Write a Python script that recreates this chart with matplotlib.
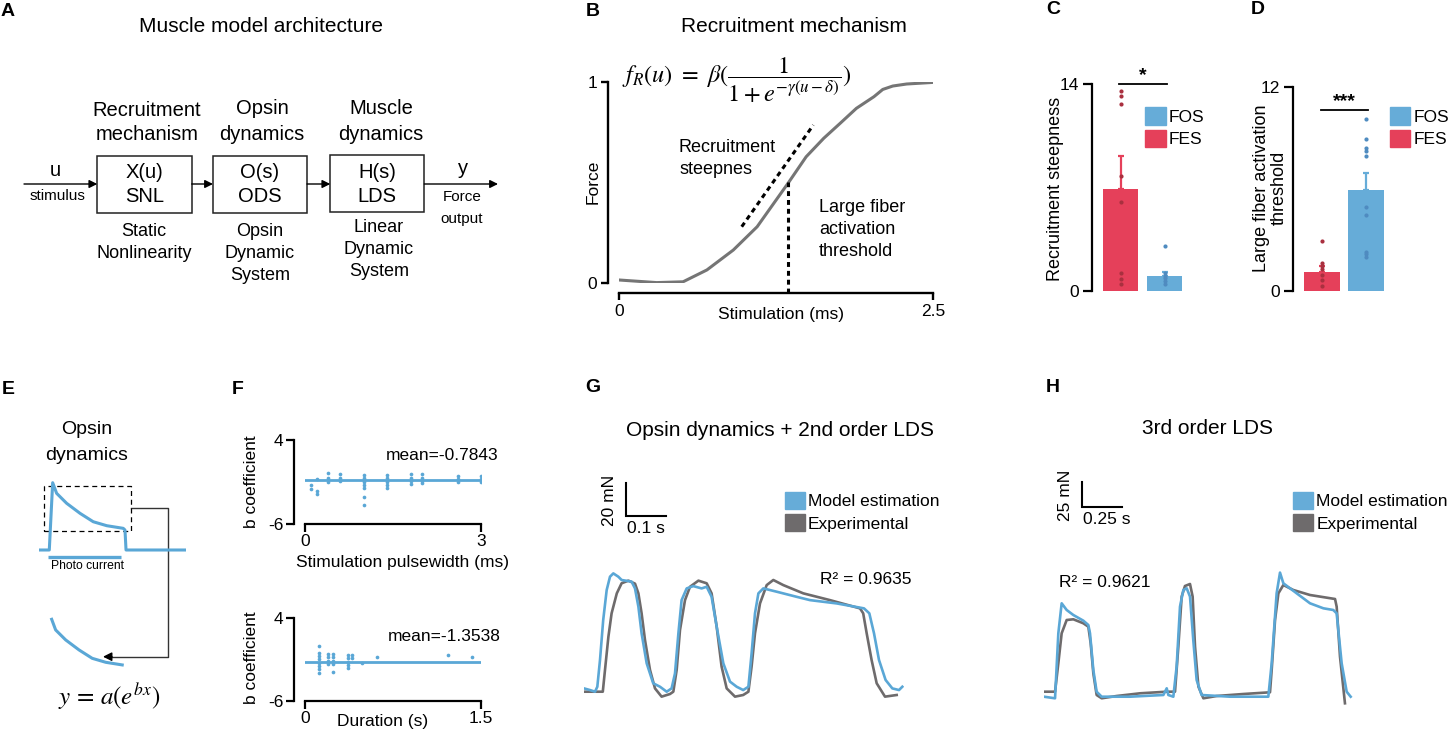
import numpy as np
import matplotlib
matplotlib.use("Agg")
import matplotlib.pyplot as plt
from matplotlib.patches import Rectangle, Patch
from matplotlib.transforms import Affine2D

plt.rcParams['font.family'] = ['Liberation Sans', 'DejaVu Sans']
plt.rcParams['mathtext.fontset'] = 'stix'

W, H = 1452, 732

# ---------------- data ----------------
# B: recruitment curve
rec_stim = [0, 0.30, 0.51, 0.70, 0.91, 1.10, 1.35, 1.49, 1.63, 1.76, 1.89, 2.03, 2.10, 2.18, 2.29, 2.50]
rec_force = [0.015, 0.002, 0.006, 0.065, 0.164, 0.28, 0.50, 0.628, 0.72, 0.794, 0.869, 0.927, 0.963, 0.98, 0.99, 0.998]
steep_x = [0.977, 1.547]
steep_y = [0.28, 0.786]
thresh_x = 1.348
thresh_y = 0.50

# C / D
groups = ['FES', 'FOS']
steep_mean = [6.9, 1.0]
steep_sem = [2.25, 0.3]
steep_fes = [13.53, 13.21, 12.65, 7.8, 6.0, 1.2, 0.79, 0.45]
steep_fos = [3.04, 1.2, 1.01, 0.86, 0.68, 0.47]
thr_mean = [1.14, 5.94]
thr_sem = [0.35, 1.02]
thr_fes = [2.96, 1.67, 1.47, 1.27, 0.94, 0.65, 0.29]
thr_fos = [10.12, 8.94, 8.39, 8.25, 7.94, 4.92, 4.47, 2.31, 2.18, 2.02]

# E: photocurrent schematic
e_time = [0, 0.070, 0.093, 0.120, 0.188, 0.279, 0.369, 0.461, 0.573, 0.585, 0.592, 1.0]
e_curr = [0, 0, 1.0, 0.842, 0.694, 0.545, 0.420, 0.361, 0.322, 0.297, 0, 0]
e_light = [0.063, 0.556]

# F: b coefficients
pw_x = [0.1, 0.1, 0.2, 0.2, 0.2, 0.4, 0.4, 0.4, 0.6, 0.6, 0.6,
        1.0, 1.0, 1.0, 1.0, 1.0, 1.0, 1.0, 1.0,
        1.4, 1.4, 1.4, 1.4, 1.4, 1.8, 1.8, 1.8, 1.8, 2.0, 2.0, 2.0, 2.0,
        2.6, 2.6, 2.6, 3.0, 3.0, 3.0]
pw_b = [-1.36, -1.83, -0.68, -2.04, -2.46, 0.04, -0.49, -0.96, -0.08, -0.56, -0.88,
        -0.17, -0.49, -0.76, -1.04, -1.36, -1.68, -2.75, -3.74,
        -0.17, -0.56, -0.96, -1.36, -1.75, -0.1, -0.5, -0.9, -1.2, -0.1, -0.5, -0.9, -1.15,
        -0.3, -0.7, -1.05, -0.3, -0.7, -1.05]
pw_mean = -0.7843
dur_x = [0.12, 0.12, 0.12, 0.12, 0.12, 0.12, 0.12, 0.12,
         0.2, 0.2, 0.2, 0.2, 0.24, 0.24, 0.24, 0.24, 0.24,
         0.37, 0.37, 0.37, 0.37, 0.37, 0.4, 0.4, 0.49, 0.61, 1.22, 1.42]
dur_b = [0.59, -0.22, -0.61, -1.01, -1.42, -1.82, -2.22, -2.63,
         -0.37, -0.77, -1.18, -1.58, -0.37, -0.77, -1.18, -1.58, -2.5,
         -0.49, -0.89, -1.3, -1.7, -2.1, -0.49, -0.89, -1.5, -0.7, -0.49, -0.77]
dur_mean = -1.3538

# G: opsin dynamics + 2nd order LDS (time s, force mN)
g_exp_t = [0, 0.047, 0.0525, 0.061, 0.069, 0.082, 0.094, 0.111, 0.1275, 0.136, 0.144, 0.1525, 0.165, 0.1775, 0.194,
           0.215, 0.2233, 0.2317, 0.24, 0.2525, 0.265, 0.286, 0.3067, 0.319, 0.3317, 0.344, 0.3567, 0.3775, 0.398, 0.411,
           0.419, 0.4275, 0.44, 0.4567, 0.4733, 0.4983, 0.5483, 0.615, 0.69, 0.698, 0.7067, 0.719, 0.7317, 0.7525, 0.7817]
g_exp_f = [0, 0, 13.2, 33.3, 47.5, 59.6, 65.7, 67.3, 65.5, 59.6, 47.5, 31.3, 13.2, 2.0, -3.0,
           -1.4, 0, 13.2, 37.4, 55.5, 63.6, 67.3, 65.7, 59.6, 39.4, 15.2, 2.0, -3.0, -2.0, 0,
           15.2, 35.4, 53.5, 64.6, 67.7, 64.6, 59.6, 55.5, 50.5, 47.5, 35.4, 19.2, 5.1, -3.0, -2.0]
g_mod_t = [0, 0.015, 0.0275, 0.0333, 0.04, 0.048, 0.0567, 0.065, 0.0733, 0.0858, 0.094, 0.119, 0.1275, 0.136, 0.144,
           0.1567, 0.173, 0.19, 0.2067, 0.219, 0.2275, 0.236, 0.244, 0.2567, 0.2733, 0.294, 0.3067, 0.319, 0.3317, 0.3483,
           0.365, 0.3817, 0.398, 0.411, 0.419, 0.4275, 0.436, 0.4483, 0.4817, 0.5317, 0.565, 0.6317, 0.70, 0.7133, 0.725,
           0.7375, 0.754, 0.7708, 0.7875, 0.7958]
g_mod_f = [2.0, 1.0, 0, 3.0, 19.2, 43.4, 61.6, 69.7, 71.7, 69.7, 67.7, 66.7, 62.6, 51.5, 35.4,
           17.2, 5.1, 3.0, 0, 2.0, 11.1, 35.4, 55.5, 62.6, 64.0, 62.6, 63.6, 57.5, 39.4, 17.2,
           6.1, 3.0, 1.0, 3.0, 23.2, 47.5, 59.6, 62.6, 60.6, 57.5, 55.5, 53.5, 50.5, 47.5, 35.4,
           19.2, 7.1, 2.0, 1.0, 3.0]
g_r2 = 0.9635

# H: 3rd order LDS
h_exp_t = [0, 0.069, 0.0896, 0.1104, 0.1417, 0.1833, 0.246, 0.2771, 0.2917, 0.3083, 0.329, 0.3604, 0.454, 0.6, 0.7667,
           0.8188, 0.8396, 0.8604, 0.881, 0.9125, 0.929, 0.944, 0.965, 0.996, 1.079, 1.246, 1.4125, 1.423, 1.444, 1.465,
           1.496, 1.5583, 1.6625, 1.819, 1.8292, 1.85, 1.881]
h_exp_f = [0, 0, 28.4, 58.4, 71.7, 72.4, 68.4, 65.0, 48.4, 18.4, -3.3, -6.6, -4.3, -1.6, 0,
           0, 45.1, 95.1, 105.7, 107.7, 95.1, 45.1, 5.1, -6.6, -4.3, -2.3, -0.6, 21.7, 71.7, 98.4,
           106.7, 101.7, 96.7, 92.7, 85.0, 35.0, -11.6]
h_mod_t = [0, 0.069, 0.0896, 0.1104, 0.1417, 0.1833, 0.246, 0.2771, 0.2875, 0.3083, 0.329, 0.3604, 0.5375, 0.746, 0.767,
           0.7771, 0.8083, 0.829, 0.85, 0.871, 0.892, 0.9125, 0.933, 0.954, 0.985, 1.1625, 1.402, 1.423, 1.454, 1.475,
           1.496, 1.579, 1.6625, 1.746, 1.808, 1.829, 1.8604, 1.8917, 1.9167]
h_mod_f = [-5, -6.6, 58.4, 88.4, 81.7, 76.7, 71.0, 66.7, 58.4, 21.7, 0, -5, -5, -3.3, 3.4,
           -3.3, -5, 25.1, 85.1, 101.7, 103.4, 95.1, 51.7, 11.7, -3.3, -5, -5, 28.4, 98.4, 119.1,
           108.4, 98.4, 88.4, 83.4, 81.7, 78.4, 28.4, 0, -5]
h_r2 = 0.9621

# ---------------- styles ----------------
RED = '#E5405A'
BLUE = '#66ACD8'
DRED = '#A9303F'
DBLUE = '#4F8BC0'
LBLUE = '#5AA7D6'
GRAY = '#6E6B6C'
CGRAY = '#757575'

fig = plt.figure(figsize=(W / 100, H / 100), dpi=100)
T = Affine2D().scale(1 / W, -1 / H).translate(0, 1) + fig.transFigure
PX = 0.72  # points per pixel


def add_ax(x0, y0, x1, y1):
    return fig.add_axes([x0 / W, 1 - y1 / H, (x1 - x0) / W, (y1 - y0) / H])


ax0 = fig.add_axes([0, 0, 1, 1])
ax0.set_xlim(0, W)
ax0.set_ylim(H, 0)
ax0.axis('off')


def txt(x, y, s, size, ha='center', va='center', **kw):
    return ax0.text(x, y, s, fontsize=size, ha=ha, va=va, **kw)


def arrow(x0, y0, x1, y1, ms=12, lw=1.0, color='k'):
    ax0.annotate('', xy=(x1, y1), xytext=(x0, y0),
                 arrowprops=dict(arrowstyle='-|>', color=color, lw=lw, mutation_scale=ms,
                                 shrinkA=0, shrinkB=0))


# panel letters
for lab, x, y in [('A', 8, 12), ('B', 593, 11), ('C', 1053, 10), ('D', 1258, 10),
                  ('E', 8, 389), ('F', 238, 389), ('G', 593, 388), ('H', 1053, 388)]:
    txt(x, y, lab, 14, weight='bold')

# ---------------- A: architecture ----------------
txt(261, 27, 'Muscle model architecture', 15)
boxes = [(97.3, 155.7, 191.7, 213.3, 'X(u)', 'SNL'),
         (213, 155.7, 307, 213.3, 'O(s)', 'ODS'),
         (330.3, 155, 424.3, 212, 'H(s)', 'LDS')]
for x0, y0, x1, y1, t1, t2 in boxes:
    ax0.add_patch(Rectangle((x0, y0), x1 - x0, y1 - y0, fill=False, lw=1.1, ec='#222222'))
    cx = (x0 + x1) / 2
    txt(cx, 173, t1, 14.5)
    txt(cx, 197, t2, 14.5)
arrow(24, 184, 97.3, 184)
arrow(191.7, 184, 213, 184)
arrow(307, 184, 330.3, 184)
arrow(424.3, 184, 498, 184)
txt(55, 170, 'u', 14.5)
txt(57, 196, 'stimulus', 11)
txt(463, 169, 'y', 14.5)
txt(462, 197, 'Force', 11)
txt(462, 219, 'output', 11)
txt(147, 110, 'Recruitment', 14.5)
txt(147, 135, 'mechanism', 14.5)
txt(262, 109, 'Opsin', 14.5)
txt(262, 134, 'dynamics', 14.5)
txt(381, 109, 'Muscle', 14.5)
txt(381, 134, 'dynamics', 14.5)
txt(144, 232, 'Static', 13)
txt(144, 254, 'Nonlinearity', 13)
txt(260, 231, 'Opsin', 13)
txt(260, 253, 'Dynamic', 13)
txt(260, 275, 'System', 13)
txt(379, 228, 'Linear', 13)
txt(379, 250, 'Dynamic', 13)
txt(379, 272, 'System', 13)

# ---------------- B: recruitment ----------------
axB = add_ax(619, 82, 933, 283)
axB.plot(rec_stim, rec_force, color=CGRAY, lw=2.2, solid_capstyle='round', solid_joinstyle='round', zorder=2)
axB.plot(steep_x, steep_y, color='k', lw=2.2, ls=(0, (1.6, 1.3)), zorder=3)
axB.plot([thresh_x, thresh_x], [-0.05, thresh_y], color='k', lw=2.2, ls=(0, (1.6, 1.3)),
         clip_on=False, zorder=3)
axB.set_xlim(0, 2.5)
axB.set_ylim(0, 1)
for s in ['top', 'right']:
    axB.spines[s].set_visible(False)
axB.spines['left'].set_position(('outward', 11 * PX))
axB.spines['bottom'].set_position(('outward', 10 * PX))
axB.spines['left'].set_bounds(0, 1)
axB.spines['bottom'].set_bounds(0, 2.5)
for s in ['left', 'bottom']:
    axB.spines[s].set_linewidth(1.7)
axB.set_xticks([0, 2.5])
axB.set_xticklabels(['0', '2.5'])
axB.set_yticks([0, 1])
axB.set_yticklabels(['0', '1'])
axB.tick_params(length=5, width=1.7, labelsize=12.5, pad=3)
axB.set_xlabel('Stimulation (ms)', fontsize=12.5)
axB.xaxis.set_label_coords(780.7, 314, transform=T)
axB.xaxis.label.set_va('center')
axB.set_ylabel('Force', fontsize=12.5)
axB.yaxis.set_label_coords(593, 182, transform=T)
axB.yaxis.label.set_va('center')
axB.patch.set_alpha(0)
txt(794, 27, 'Recruitment mechanism', 15)
txt(622, 80, r'$f_R(u)\ =\ \beta(\dfrac{1}{1+e^{-\gamma(u-\delta)}})$', 17.5, ha='left')
txt(679, 147, 'Recruitment', 13, ha='left')
txt(679, 169, 'steepnes', 13, ha='left')
txt(819, 208, 'Large fiber', 13, ha='left')
txt(819, 230, 'activation', 13, ha='left')
txt(819, 251, 'threshold', 13, ha='left')


# ---------------- C / D: bars ----------------
def bar_panel(ax, means, sems, pts, ymax, off_px, ylabel, lab_xy, sig_y, sig_txt, leg_xy):
    pos = np.arange(len(groups))
    cols = [RED, BLUE]
    dcols = [DRED, DBLUE]
    ax.bar(pos, means, width=0.8, color=cols, zorder=1)
    for i in range(len(groups)):
        ax.errorbar(pos[i], means[i], yerr=[[0], [sems[i]]], color=cols[i], lw=1.6,
                    capsize=2, capthick=1.6, zorder=2)
        ax.scatter(np.full(len(pts[i]), pos[i]), pts[i], s=9, color=dcols[i], zorder=3,
                   linewidths=0)
    ax.set_xlim(-0.5, 1.5)
    ax.set_ylim(0, ymax)
    for s in ['top', 'right', 'bottom']:
        ax.spines[s].set_visible(False)
    ax.spines['left'].set_position(('outward', off_px * PX))
    ax.spines['left'].set_linewidth(1.6)
    ax.set_xticks([])
    ax.set_yticks([0, ymax])
    ax.tick_params(axis='y', length=6.5, width=1.6, labelsize=12.5, pad=3)
    ax.set_ylabel(ylabel, fontsize=13, linespacing=1.05)
    ax.yaxis.set_label_coords(lab_xy[0], lab_xy[1], transform=T)
    ax.yaxis.label.set_va('center')
    ax.plot([-0.03, 1.05], [sig_y, sig_y], color='k', lw=1.3, clip_on=False)
    ax.text(0.5, sig_y, sig_txt, ha='center', va='bottom', fontsize=14, fontweight='bold')
    handles = [Patch(color=BLUE, label='FOS'), Patch(color=RED, label='FES')]
    ax.legend(handles=handles, loc='upper left', bbox_to_anchor=leg_xy, bbox_transform=T,
              frameon=False, fontsize=12.5, handlelength=1.17, handleheight=1.15,
              handletextpad=0.17, labelspacing=0.29, borderpad=0, borderaxespad=0)
    ax.patch.set_alpha(0)


axC = add_ax(1098.5, 84, 1186.5, 291)
bar_panel(axC, steep_mean, steep_sem, [steep_fes, steep_fos], 14, 6.8,
          'Recruitment steepness', (1055, 189), 14, '*', (1145.3, 107.3))
axD = add_ax(1300, 87, 1388, 291)
bar_panel(axD, thr_mean, thr_sem, [thr_fes, thr_fos], 12, 7,
          'Large fiber activation\nthreshold', (1270, 188), 10.65, '***', (1390, 107.3))

# ---------------- E: opsin dynamics ----------------
txt(87, 430, 'Opsin', 14)
txt(87, 456, 'dynamics', 14)
e_ylim = (-0.1486, 1.1887)
axE = add_ax(39, 470, 186, 560)
axE.plot(e_time, e_curr, color=LBLUE, lw=2.2, solid_joinstyle='round')
axE.plot(e_light, [-0.108, -0.108], color=LBLUE, lw=2.4, solid_capstyle='butt', clip_on=False)
axE.add_patch(Rectangle((0.034, 0.282), 0.592, 0.669, fill=False, ls=(0, (4, 3)), lw=0.9, ec='k'))
axE.set_xlim(0, 1)
axE.set_ylim(*e_ylim)
axE.axis('off')
ipk = int(np.argmax(e_curr))
axE2 = add_ax(38, 606.6, 185, 696.6)
axE2.plot(e_time[ipk:-3], e_curr[ipk:-3], color=LBLUE, lw=2.2, solid_joinstyle='round')
axE2.set_xlim(0, 1)
axE2.set_ylim(*e_ylim)
axE2.axis('off')
txt(87.5, 566, 'Photo current', 8.7)
ax0.plot([131, 168.3, 168.3, 110], [508.3, 508.3, 656.7, 656.7], color='#333333', lw=1.0)
arrow(112, 656.7, 103, 656.7, ms=13, lw=1.0)
txt(109, 697, r'$y\,=\,a(e^{bx})$', 18)


# ---------------- F: b coefficients ----------------
def f_panel(ax, xs, ys, mean, xmax, xlabels, xlab, xlab_xy, mean_xy, ylab_xy):
    ax.axhline(mean, color=LBLUE, lw=2.0, zorder=1)
    ax.scatter(xs, ys, s=7, color=LBLUE, linewidths=0, zorder=2)
    ax.set_xlim(0, xmax)
    ax.set_ylim(-6, 4)
    for s in ['top', 'right']:
        ax.spines[s].set_visible(False)
    ax.spines['left'].set_position(('outward', 11 * PX))
    for s in ['left', 'bottom']:
        ax.spines[s].set_linewidth(1.6)
    ax.set_xticks([0, xmax])
    ax.set_xticklabels(xlabels)
    ax.set_yticks([-6, 4])
    ax.set_yticklabels(['-6', '4'])
    ax.tick_params(length=5.5, width=1.6, labelsize=12.5, pad=2)
    ax.set_xlabel(xlab, fontsize=12.5)
    ax.xaxis.set_label_coords(xlab_xy[0], xlab_xy[1], transform=T)
    ax.xaxis.label.set_va('center')
    ax.set_ylabel('b coefficient', fontsize=12.5)
    ax.yaxis.set_label_coords(ylab_xy[0], ylab_xy[1], transform=T)
    ax.yaxis.label.set_va('center')
    ax.text(mean_xy[0], mean_xy[1], 'mean=%.4f' % mean, transform=T,
            fontsize=12.5, ha='left', va='center')
    ax.patch.set_alpha(0)


axF1 = add_ax(305, 440, 481, 524)
f_panel(axF1, pw_x, pw_b, pw_mean, 3, ['0', '3'], 'Stimulation pulsewidth (ms)', (402, 562),
        (385.7, 455.7), (252, 482))
axF2 = add_ax(305, 617.7, 481, 700.7)
f_panel(axF2, dur_x, dur_b, dur_mean, 1.5, ['0', '1.5'], 'Duration (s)', (383, 721.7),
        (388, 636.7), (252, 658))


# ---------------- G / H: traces ----------------
def trace_panel(ax, te, fe, tm, fm, xlim, ylim, sb, sb_anchor, sb_labels, r2, r2_xy, leg_xy):
    ax.plot(te, fe, color=GRAY, lw=1.9, zorder=2, solid_joinstyle='round')
    ax.plot(tm, fm, color=LBLUE, lw=1.9, zorder=3, solid_joinstyle='round')
    ax.set_xlim(*xlim)
    ax.set_ylim(*ylim)
    ax.axis('off')
    t0, f0 = sb_anchor
    ax.plot([t0, t0, t0 + sb[0]], [f0 + sb[1], f0, f0], color='k', lw=1.5, clip_on=False,
            solid_joinstyle='miter')
    (vx, vy), (hx, hy) = sb_labels
    ax.text(vx, vy, '%g mN' % sb[1], transform=T, rotation=90, fontsize=12.5, ha='center', va='center')
    ax.text(hx, hy, '%g s' % sb[0], transform=T, fontsize=12.5, ha='center', va='center')
    ax.text(r2_xy[0], r2_xy[1], 'R\u00b2 = %.4f' % r2, transform=T, fontsize=12.5, ha='left', va='center')
    handles = [Patch(color=BLUE, label='Model estimation'), Patch(color=GRAY, label='Experimental')]
    ax.legend(handles=handles, loc='upper left', bbox_to_anchor=leg_xy, bbox_transform=T,
              frameon=False, fontsize=12.5, handlelength=1.15, handleheight=1.15,
              handletextpad=0.17, labelspacing=0.29, borderpad=0, borderaxespad=0)


txt(780, 431, 'Opsin dynamics + 2nd order LDS', 15)
axG = add_ax(584, 470, 904, 710)
trace_panel(axG, g_exp_t, g_exp_f, g_mod_t, g_mod_f, (0, 0.8), (-11.09, 134.36),
            (0.1, 20), (0.105, 106.5), ((610, 500), (646, 528.3)), g_r2, (820, 580), (785, 491.7))

txt(1208, 428, '3rd order LDS', 15)
axH = add_ax(1044, 470, 1364, 710)
trace_panel(axH, h_exp_t, h_exp_f, h_mod_t, h_mod_f, (0, 2.0), (-18.3, 221.7),
            (0.25, 25), (0.239, 184.4), ((1065, 495), (1107, 520)), h_r2, (1059, 582.7), (1293.3, 491.7))

fig.savefig('out.png', dpi=100)
